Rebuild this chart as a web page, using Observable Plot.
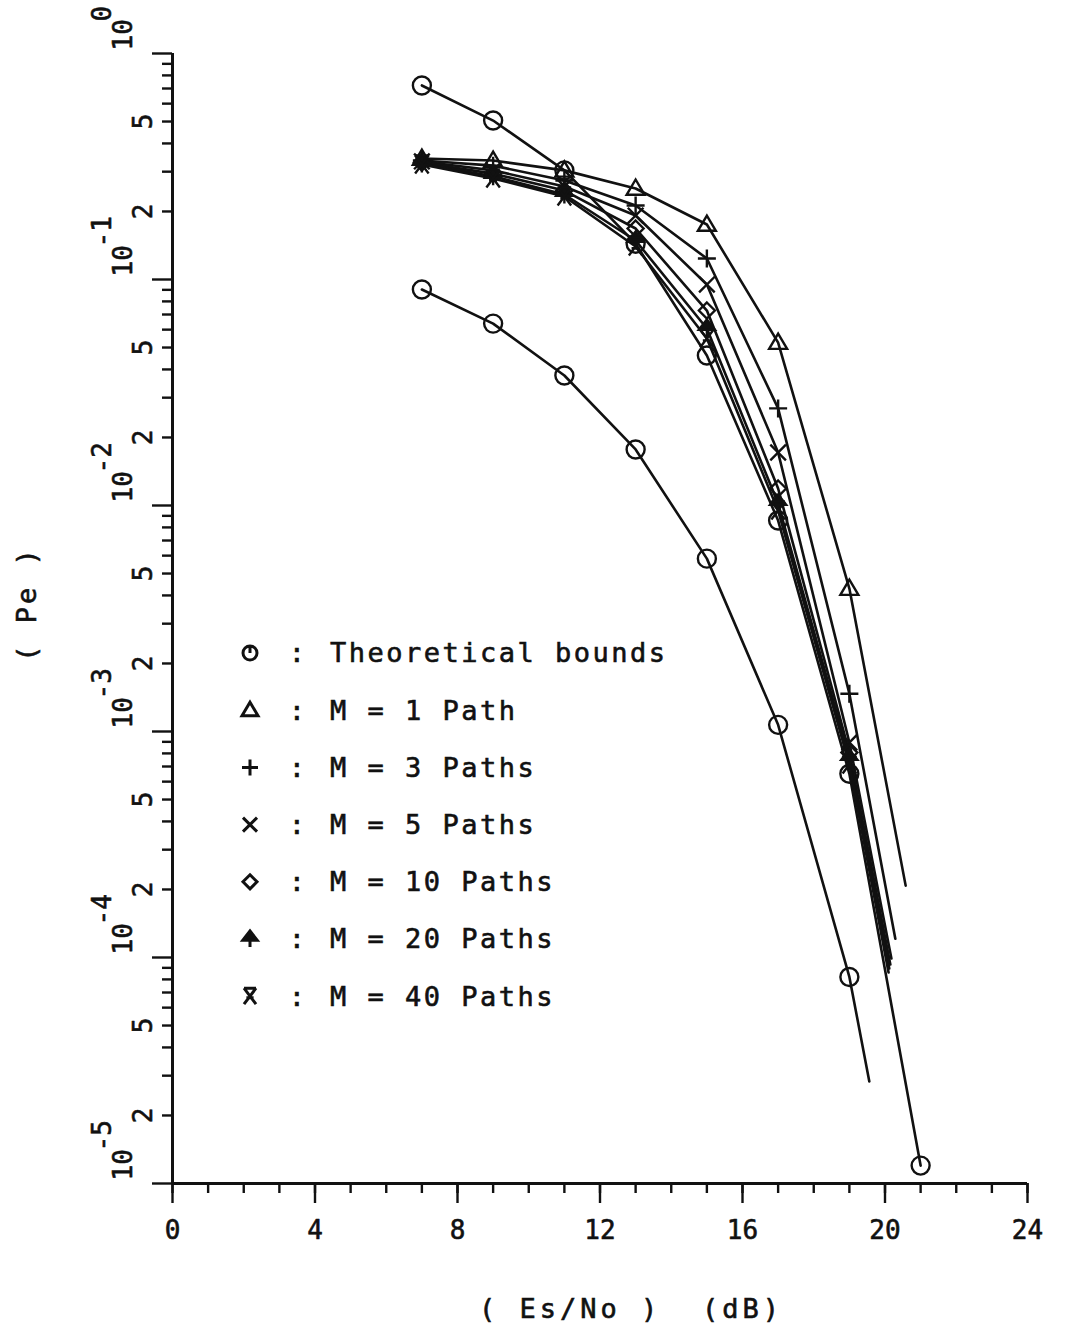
<!DOCTYPE html>
<html>
<head>
<meta charset="utf-8">
<script src="https://cdn.jsdelivr.net/npm/d3@7"></script>
<script src="https://cdn.jsdelivr.net/npm/@observablehq/plot@0.6"></script>
<style>
  html, body { margin: 0; padding: 0; background: #fff; }
  #chart { position: relative; width: 1065px; height: 1327px; overflow: hidden; }
  #chart svg text { white-space: pre; }
</style>
</head>
<body>
<div id="chart"></div>
<script>
// ---- Data: symbol error probability Pe versus Es/No (dB) ----
const snr = [7, 9, 11, 13, 15, 17, 19, 21];

// Theoretical bounds (two curves, circle markers)
const boundUpperPe = [0.722, 0.505, 0.304, 0.144, 0.0461, 0.00858, 6.5e-4, 1.2e-5];
const boundLowerPe = [0.0903, 0.0638, 0.0376, 0.0177, 0.00582, 0.00107, 8.2e-5];

// Simulated multipath results (M paths)
const pePath1  = [0.343, 0.336, 0.304, 0.2527, 0.1751, 0.0526, 0.00429];
const pePath3  = [0.336, 0.319, 0.274, 0.2126, 0.1238, 0.0269, 0.00147];
const pePath5  = [0.333, 0.304, 0.258, 0.1919, 0.0950, 0.01716, 8.94e-4];
const pePath10 = [0.329, 0.294, 0.2475, 0.1681, 0.0729, 0.01189, 8.07e-4];
const pePath20 = [0.326, 0.286, 0.2377, 0.1488, 0.0607, 0.0102, 7.6e-4];
const pePath40 = [0.323, 0.280, 0.2330, 0.140, 0.0548, 0.0095, 7.14e-4];

// Unmarked end points where each curve runs out
// (lower bound, M=1, 3, 5, 10, 20, 40)
const tailSnr = [19.56, 20.58, 20.29, 20.18, 20.15, 20.12, 20.10];
const tailPe  = [2.83e-5, 2.08e-4, 1.21e-4, 9.9e-5, 9.31e-5, 8.94e-5, 8.58e-5];

const seriesNames = ["Theoretical bounds", "M = 1 Path", "M = 3 Paths", "M = 5 Paths",
                     "M = 10 Paths", "M = 20 Paths", "M = 40 Paths"];

// Axis ticks
const xTicks = d3.range(0, 25, 1);
const xMajorTicks = [0, 4, 8, 12, 16, 20, 24];
const yDecades = [1e-5, 1e-4, 1e-3, 1e-2, 1e-1, 1];
const yMinorLabelled = [2e-5, 5e-5, 2e-4, 5e-4, 2e-3, 5e-3, 2e-2, 5e-2, 2e-1, 5e-1];

// ---- Marker shapes (pen-plotter style) ----
const sym = (fn) => ({ draw(ctx, size) { fn(ctx, Math.sqrt(size / Math.PI)); } });
const ring = sym((c, r) => { c.moveTo(r, 0); c.arc(0, 0, r, 0, 2 * Math.PI); });
const ringTick = sym((c, r) => { c.moveTo(r, 0); c.arc(0, 0, r, 0, 2 * Math.PI); c.moveTo(0, -r); c.lineTo(0, 0); });
const tri = sym((c, r) => { c.moveTo(0, -r); c.lineTo(r, r * 0.7); c.lineTo(-r, r * 0.7); c.closePath(); });
const plus = sym((c, r) => { c.moveTo(-r, 0); c.lineTo(r, 0); c.moveTo(0, -r); c.lineTo(0, r); });
const times = sym((c, r) => { const a = r * 0.78; c.moveTo(-a, -a); c.lineTo(a, a); c.moveTo(-a, a); c.lineTo(a, -a); });
const diamond = sym((c, r) => { c.moveTo(0, -r); c.lineTo(r, 0); c.lineTo(0, r); c.lineTo(-r, 0); c.closePath(); });
const arrow = sym((c, r) => { c.moveTo(0, -r); c.lineTo(r * 0.9, r * 0.15); c.lineTo(-r * 0.9, r * 0.15); c.closePath(); c.moveTo(0, r * 0.15); c.lineTo(0, r); });
const hourglass = sym((c, r) => { const a = r * 0.75; c.moveTo(-a, -r); c.lineTo(a, -r); c.moveTo(-a, -r); c.lineTo(a, r); c.moveTo(a, -r); c.lineTo(-a, r); c.moveTo(-a * 0.6, r * 0.2); c.lineTo(a * 0.6, r * 0.2); });

const styleOf = {
  "Theoretical bounds": { symbol: ring, legendSymbol: ringTick, r: 9, lr: 7, filled: false },
  "M = 1 Path":   { symbol: tri, legendSymbol: tri, r: 9, lr: 8, filled: false },
  "M = 3 Paths":  { symbol: plus, legendSymbol: plus, r: 9, lr: 8, filled: false },
  "M = 5 Paths":  { symbol: times, legendSymbol: times, r: 10, lr: 9, filled: false },
  "M = 10 Paths": { symbol: diamond, legendSymbol: diamond, r: 8, lr: 7, filled: false },
  "M = 20 Paths": { symbol: arrow, legendSymbol: arrow, r: 9, lr: 8, filled: true },
  "M = 40 Paths": { symbol: hourglass, legendSymbol: hourglass, r: 9, lr: 8, filled: false }
};

// ---- Build the long table ----
const rows = [];
const addCurve = (key, name, xs, ys, tail) => {
  ys.forEach((pe, i) => rows.push({ key, name, snr: xs[i], pe, marked: true }));
  if (tail) rows.push({ key, name, snr: tail[0], pe: tail[1], marked: false });
};
addCurve("upper", seriesNames[0], snr, boundUpperPe, null);
addCurve("lower", seriesNames[0], snr, boundLowerPe, [tailSnr[0], tailPe[0]]);
[pePath1, pePath3, pePath5, pePath10, pePath20, pePath40].forEach((ys, j) =>
  addCurve(seriesNames[j + 1], seriesNames[j + 1], snr, ys, [tailSnr[j + 1], tailPe[j + 1]]));

const ink = "#111";
const fontFamily = "'DejaVu Sans Mono', 'Liberation Mono', monospace";

const dotMarks = seriesNames.map((name) => {
  const s = styleOf[name];
  return Plot.dot(rows.filter((d) => d.marked && d.name === name), {
    x: "snr", y: "pe", symbol: s.symbol, r: s.r,
    stroke: ink, strokeWidth: 2.4, fill: s.filled ? ink : "none"
  });
});

const labelStyle = { fill: ink, stroke: ink, strokeWidth: 0.6 };

const chart = Plot.plot({
  width: 1065,
  height: 1327,
  marginLeft: 172,
  marginRight: 38,
  marginTop: 53,
  marginBottom: 144,
  style: { fontFamily, fontSize: "26px", background: "#fff", color: ink },
  x: { domain: [0, 24], label: null },
  y: { type: "log", domain: [1e-5, 1], label: null },
  marks: [
    // Tick marks
    Plot.axisX({ ticks: xTicks, tickSize: 10, tickFormat: () => "", label: null, strokeWidth: 2.4, stroke: ink }),
    Plot.axisX({ ticks: xMajorTicks, tickSize: 20, tickFormat: () => "", label: null, strokeWidth: 2.4, stroke: ink }),
    Plot.axisY({ ticks: yDecades.slice(0, -1).flatMap((d) => d3.range(2, 10).map((k) => k * d)),
                 tickSize: 10, tickFormat: () => "", label: null, strokeWidth: 2.4, stroke: ink }),
    Plot.axisY({ ticks: yDecades, tickSize: 20, tickFormat: () => "", label: null, strokeWidth: 2.4, stroke: ink }),
    // Axis lines
    Plot.ruleX([0], { stroke: ink, strokeWidth: 3 }),
    Plot.ruleY([1e-5], { stroke: ink, strokeWidth: 3 }),
    // Tick labels
    Plot.text(xMajorTicks, { x: (d) => d, frameAnchor: "bottom", dy: 47, text: (d) => String(d),
                             textAnchor: "middle", lineAnchor: "middle", ...labelStyle }),
    Plot.text(yMinorLabelled, { y: (d) => d, frameAnchor: "left", dx: -29, rotate: -90,
                                text: (d) => String(Math.round(d / Math.pow(10, Math.floor(Math.log10(d) + 1e-9)))),
                                textAnchor: "middle", lineAnchor: "middle", ...labelStyle }),
    Plot.text(yDecades, { y: (d) => d, frameAnchor: "left", dx: -49, dy: -3, rotate: -90,
                          text: () => "10", textAnchor: "start", lineAnchor: "middle", ...labelStyle }),
    Plot.text(yDecades, { y: (d) => d, frameAnchor: "left", dx: -70, dy: -32, rotate: -90,
                          text: (d) => String(Math.round(Math.log10(d))), textAnchor: "start",
                          lineAnchor: "middle", ...labelStyle }),
    // Curves
    Plot.line(rows, { x: "snr", y: "pe", z: "key", stroke: ink, strokeWidth: 2.6 }),
    ...dotMarks
  ]
});

document.getElementById("chart").appendChild(chart);

// ---- Axis titles and legend ----
const svg = d3.select(chart);
const txt = svg.append("g")
  .attr("font-family", fontFamily).attr("font-size", 27)
  .attr("fill", ink).attr("stroke", ink).attr("stroke-width", 0.6)
  .attr("text-anchor", "start");

txt.append("text")
  .attr("transform", "translate(27,604) rotate(-90)")
  .attr("text-anchor", "middle").attr("dy", "0.35em").attr("letter-spacing", 3)
  .text("( Pe )");

txt.append("text")
  .attr("x", 631).attr("y", 1309)
  .attr("text-anchor", "middle").attr("dy", "0.35em").attr("letter-spacing", 4)
  .text("( Es/No )  (dB)");

seriesNames.forEach((name, i) => {
  const s = styleOf[name];
  const y = 653 + 57.2 * i;
  const p = d3.path();
  s.legendSymbol.draw(p, Math.PI * s.lr * s.lr);
  txt.append("path")
    .attr("d", p.toString())
    .attr("transform", `translate(250,${y})`)
    .attr("fill", s.filled ? ink : "none")
    .attr("stroke", ink).attr("stroke-width", 3);
  txt.append("text").attr("x", 297).attr("y", y).attr("dy", "0.35em")
    .attr("text-anchor", "middle").text(":");
  txt.append("text").attr("x", 330).attr("y", y).attr("dy", "0.35em")
    .attr("text-anchor", "start").attr("letter-spacing", 2.5).text(name);
});
</script>
</body>
</html>
